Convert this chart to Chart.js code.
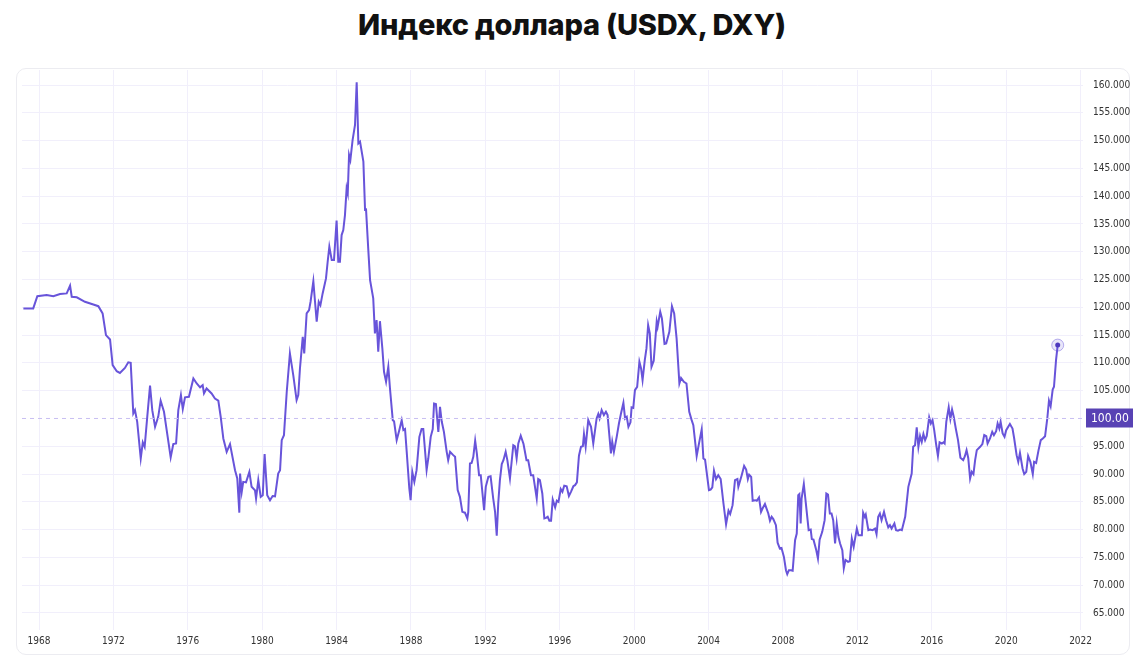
<!DOCTYPE html>
<html lang="ru">
<head>
<meta charset="utf-8">
<title>Индекс доллара (USDX, DXY)</title>
<script src="https://cdn.jsdelivr.net/npm/chart.js@4.4.0/dist/chart.umd.min.js"></script>
<style>
  html, body { margin: 0; padding: 0; background: #fff; }
  body { width: 1144px; height: 669px; position: relative; overflow: hidden; }
  .title {
    position: absolute; left: 0; top: 7px; width: 1144px; text-align: center;
    font-family: Inter, "Noto Sans", sans-serif; font-weight: 800; font-size: 29px;
    color: #111; letter-spacing: -0.2px;
  }
  .card {
    position: absolute; left: 16px; top: 68px; width: 1114px; height: 587px;
    border: 1px solid #ececf1; border-radius: 10px; box-sizing: border-box;
  }
  #dxy { position: absolute; left: 0; top: 0; }
</style>
</head>
<body>
<div class="title">Индекс доллара (USDX, DXY)</div>
<div class="card"></div>
<canvas id="dxy" width="1144" height="669"></canvas>
<script>
// dates as decimal years
const dates = [
  1967.16, 1967.69, 1967.91, 1968.41, 1968.77, 1969.13, 1969.49, 1969.67, 1969.76, 1970.03,
  1970.47, 1970.92, 1971.19, 1971.42, 1971.60, 1971.82, 1971.96, 1972.18, 1972.35, 1972.62,
  1972.80, 1972.93, 1973.07, 1973.16, 1973.28, 1973.47, 1973.58, 1973.68, 1973.82, 1973.97,
  1974.09, 1974.24, 1974.41, 1974.54, 1974.72, 1975.08, 1975.22, 1975.37, 1975.49, 1975.63,
  1975.73, 1975.85, 1976.06, 1976.30, 1976.48, 1976.66, 1976.80, 1976.87, 1977.01, 1977.28,
  1977.46, 1977.64, 1977.77, 1977.91, 1978.09, 1978.27, 1978.54, 1978.66, 1978.77,
  1978.81, 1978.90, 1978.98, 1979.13, 1979.31, 1979.43, 1979.61, 1979.67, 1979.79, 1979.92,
  1980.03, 1980.13, 1980.27, 1980.42, 1980.56, 1980.69, 1980.86, 1980.96, 1981.05, 1981.17,
  1981.32, 1981.49, 1981.67, 1981.85, 1981.94, 1982.03, 1982.18, 1982.26, 1982.39, 1982.52,
  1982.60, 1982.75, 1982.84, 1982.93, 1983.04, 1983.13, 1983.25, 1983.43, 1983.52, 1983.61,
  1983.74, 1983.86, 1984.00, 1984.09, 1984.18, 1984.27, 1984.36, 1984.45, 1984.54, 1984.60,
  1984.67, 1984.74, 1984.86, 1984.99, 1985.08, 1985.17, 1985.26, 1985.44, 1985.53, 1985.58,
  1985.70, 1985.80, 1985.97, 1986.06, 1986.15, 1986.24, 1986.33, 1986.46, 1986.55, 1986.66,
  1986.78, 1986.87, 1987.02, 1987.09, 1987.23, 1987.37, 1987.50, 1987.59, 1987.68, 1987.77,
  1987.91, 1987.98, 1988.07, 1988.18, 1988.30, 1988.45, 1988.57, 1988.66, 1988.84, 1988.93,
  1989.06, 1989.17, 1989.24, 1989.34, 1989.47, 1989.56, 1989.65, 1989.77, 1989.92, 1990.00,
  1990.10, 1990.27,
  1990.37, 1990.51, 1990.63, 1990.76, 1990.90, 1991.03, 1991.08, 1991.17, 1991.26, 1991.35,
  1991.45, 1991.54, 1991.66, 1991.75, 1991.93, 1992.02, 1992.16, 1992.28, 1992.42, 1992.52,
  1992.61, 1992.69, 1992.78, 1992.88, 1992.97, 1993.09, 1993.18, 1993.32, 1993.50, 1993.59,
  1993.68, 1993.77, 1993.90, 1994.05, 1994.21, 1994.30, 1994.45, 1994.57, 1994.76, 1994.84,
  1994.93, 1995.06, 1995.17, 1995.26, 1995.35, 1995.44, 1995.53, 1995.62, 1995.75, 1995.84,
  1995.93, 1996.05, 1996.14, 1996.24, 1996.37, 1996.49, 1996.60, 1996.73, 1996.82, 1996.92,
  1997.03, 1997.14, 1997.24, 1997.30, 1997.39, 1997.53, 1997.68, 1997.80, 1997.98, 1998.07,
  1998.14, 1998.25, 1998.37, 1998.48, 1998.57, 1998.64, 1998.75, 1998.82, 1998.91, 1999.06,
  1999.18, 1999.29, 1999.42, 1999.51, 1999.60, 1999.69, 1999.80, 1999.86, 1999.95, 2000.04,
  2000.16, 2000.28, 2000.37, 2000.45, 2000.57, 2000.66, 2000.75, 2000.84, 2000.93, 2001.05,
  2001.21, 2001.26, 2001.40, 2001.49, 2001.63, 2001.72, 2001.89, 2002.03, 2002.15, 2002.28,
  2002.43, 2002.52,
  2002.67, 2002.81, 2002.96, 2003.09, 2003.18, 2003.36, 2003.45, 2003.63, 2003.72, 2003.81,
  2004.02, 2004.11, 2004.20, 2004.29, 2004.40, 2004.52, 2004.65, 2004.80, 2004.94, 2005.07,
  2005.16, 2005.29, 2005.42, 2005.55, 2005.60, 2005.78, 2005.91, 2006.02, 2006.11, 2006.18,
  2006.29, 2006.37, 2006.50, 2006.59, 2006.71, 2006.82, 2006.90, 2007.03, 2007.21, 2007.30,
  2007.39, 2007.48, 2007.62, 2007.71, 2007.83, 2007.92, 2008.05, 2008.16, 2008.23, 2008.32,
  2008.43, 2008.52, 2008.65, 2008.74, 2008.82, 2008.88, 2008.95, 2009.00, 2009.12, 2009.22,
  2009.38, 2009.49, 2009.55, 2009.64, 2009.79, 2009.88, 2009.97, 2010.11, 2010.24, 2010.33,
  2010.42, 2010.52, 2010.61, 2010.70, 2010.80, 2010.89, 2010.98, 2011.07, 2011.19, 2011.27,
  2011.36, 2011.50, 2011.59, 2011.70, 2011.80, 2011.97, 2012.06, 2012.15, 2012.24, 2012.31,
  2012.40, 2012.45, 2012.59, 2012.68, 2012.82, 2012.95, 2013.03, 2013.12, 2013.21, 2013.30,
  2013.43, 2013.54, 2013.66, 2013.75, 2013.84, 2013.99, 2014.08, 2014.18, 2014.30, 2014.39,
  2014.57,
  2014.74, 2014.92, 2015.00, 2015.10, 2015.19, 2015.28, 2015.37, 2015.46, 2015.55, 2015.64,
  2015.73, 2015.86, 2015.95, 2016.04, 2016.13, 2016.24, 2016.33, 2016.42, 2016.54, 2016.63,
  2016.69, 2016.78, 2016.91, 2017.00, 2017.09, 2017.18, 2017.29, 2017.41, 2017.54, 2017.69,
  2017.78, 2017.87, 2017.96, 2018.06, 2018.15, 2018.24, 2018.33, 2018.42, 2018.60, 2018.72,
  2018.82, 2018.93, 2019.00, 2019.13, 2019.25, 2019.34, 2019.46, 2019.54, 2019.63, 2019.70,
  2019.81, 2019.91, 2020.00, 2020.20, 2020.34, 2020.43, 2020.56, 2020.65, 2020.74, 2020.88,
  2020.97, 2021.08, 2021.18, 2021.30, 2021.43, 2021.50, 2021.61, 2021.74, 2021.86, 2021.97,
  2022.09, 2022.21, 2022.30, 2022.39, 2022.50, 2022.57, 2022.68, 2022.77
];

const values = [
  119.8, 119.8, 122.0, 122.2, 122.0, 122.4, 122.5, 123.9, 121.9, 121.8,
  121.0, 120.5, 120.2, 118.9, 115.0, 114.2, 109.6, 108.5, 108.2, 109.1,
  110.1, 110.0, 100.9, 101.5, 99.4, 92.8, 95.7, 94.9, 100.3, 105.9,
  101.5, 98.5, 100.3, 103.2, 101.2, 93.0, 95.4, 95.5, 101.5, 104.2,
  101.7, 103.8, 103.9, 107.2, 106.3, 105.6, 106.0, 104.5, 105.4, 104.5,
  103.6, 103.2, 100.3, 96.4, 94.0, 95.4, 90.7, 89.2, 83.05,
  90.1, 86.8, 88.6, 88.5, 90.4, 87.7, 87.1, 85.6, 88.9, 85.9,
  86.2, 93.6, 86.2, 85.3, 86.05, 86.0, 90.1, 90.7, 96.1, 97.0,
  104.8, 111.7, 107.8, 103.3, 104.2, 109.0, 114.7, 111.7, 118.9, 119.5,
  121.0, 124.7, 121.0, 117.4, 121.0, 120.4, 122.5, 125.2, 128.2, 130.9,
  128.5, 128.5, 135.6, 128.2, 128.2, 133.0, 133.9, 136.6, 141.4, 140.5,
  147.4, 146.5, 150.1, 152.8, 160.5, 149.5, 149.8, 146.2, 137.5, 137.8,
  130.6, 124.9, 121.6, 115.3, 117.7, 112.0, 117.5, 112.6, 108.4, 106.6,
  109.3, 105.4, 99.7, 99.5, 96.1, 97.9, 99.7, 97.9, 98.1, 94.0,
  87.4, 85.3, 90.4, 88.6, 90.7, 96.7, 98.1, 98.1, 90.7, 92.8,
  96.7, 98.1, 102.7, 102.6, 97.6, 102.1, 99.5, 97.6, 94.0, 92.5,
  94.0, 93.4,
  93.1, 87.1, 85.9, 83.2, 83.05, 82.0, 83.2, 91.9, 92.0, 93.1,
  96.0, 93.7, 89.8, 89.8, 83.5, 87.7, 89.5, 89.6, 85.6, 83.2,
  78.9, 84.7, 88.9, 91.8, 92.5, 94.0, 92.5, 89.2, 95.2, 95.0,
  92.8, 95.5, 96.9, 95.4, 92.5, 92.5, 89.8, 89.8, 85.6, 89.1,
  88.9, 86.5, 82.0, 82.1, 82.3, 81.6, 81.6, 85.4, 84.0, 85.2,
  85.0, 87.3, 86.8, 87.9, 87.8, 86.05, 86.8, 87.8, 88.0, 88.5,
  93.3, 94.9, 95.0, 97.2, 94.9, 99.7, 98.5, 95.5, 100.0, 100.8,
  100.0, 101.5, 100.6, 101.2, 100.6, 97.9, 93.7, 95.8, 94.0, 96.7,
  99.1, 100.9, 102.8, 100.0, 100.3, 98.5, 99.3, 102.0, 101.9, 105.1,
  105.7, 110.2, 109.0, 106.9, 110.5, 112.6, 116.8, 115.3, 109.3, 110.4,
  117.4, 116.5, 119.2, 118.0, 113.4, 113.5, 115.6, 120.2, 118.9, 114.4,
  106.3, 107.3,
  106.6, 106.3, 101.2, 99.7, 98.8, 93.25, 94.9, 98.05, 92.8, 92.6,
  87.1, 87.2, 87.6, 90.6, 89.1, 89.8, 89.1, 84.7, 80.95, 83.4,
  82.8, 84.4, 88.9, 89.1, 87.7, 89.8, 91.45, 90.8, 89.1, 89.9,
  89.5, 85.2, 85.3, 85.2, 85.8, 83.2, 83.8, 84.6, 82.9, 81.6,
  82.3, 81.9, 80.8, 77.65, 76.6, 76.7, 75.1, 72.7, 72.0, 72.7,
  72.7, 72.6, 78.1, 79.3, 86.2, 86.4, 81.1, 85.6, 88.2, 85.0,
  79.9, 80.0, 78.3, 78.2, 76.3, 74.8, 78.2, 79.6, 81.7, 86.5,
  86.3, 82.9, 82.9, 81.7, 77.5, 81.1, 78.7, 77.5, 76.3, 73.05,
  74.55, 74.2, 74.3, 78.4, 76.9, 80.2, 79.0, 79.0, 79.0, 83.05,
  82.3, 82.7, 79.9, 80.0, 79.9, 80.2, 79.2, 82.3, 82.9, 81.7,
  83.2, 81.7, 80.4, 80.8, 80.2, 81.1, 79.9, 79.8, 80.0, 79.9,
  82.3,
  87.7, 90.1, 94.9, 95.2, 98.4, 94.9, 96.85, 95.8, 97.2, 96.1,
  96.85, 100.2, 99.1, 99.7, 97.9, 95.2, 93.25, 95.7, 95.5, 95.7,
  95.5, 99.4, 102.0, 99.9, 101.6, 100.3, 98.2, 96.1, 92.95, 92.5,
  93.2, 94.3, 92.9, 89.2, 90.4, 90.0, 92.5, 94.3, 94.9, 95.4,
  97.0, 96.8, 95.5, 96.4, 97.6, 97.0, 97.7, 99.1, 98.2, 99.4,
  97.3, 96.7, 97.9, 99.0, 98.2, 96.4, 93.4, 92.2, 93.8, 91.0,
  90.0, 90.4, 93.25, 92.2, 90.0, 92.2, 92.0, 94.3, 96.1, 96.4,
  96.8, 100.0, 103.2, 102.2, 105.2, 105.7, 110.5, 113.2
];

const xTickYears = [1968, 1972, 1976, 1980, 1984, 1988, 1992, 1996, 2000, 2004, 2008, 2012, 2016, 2020, 2024];
const xTickLabels = ['1968', '1972', '1976', '1980', '1984', '1988', '1992', '1996', '2000', '2004', '2008', '2012', '2016', '2020', '2022'];
const yTicks = [65, 70, 75, 80, 85, 90, 95, 100, 105, 110, 115, 120, 125, 130, 135, 140, 145, 150, 155, 160];
const refValue = 100;
const refLabel = '100.00';

const lineColor = 'rgb(104, 84, 218)';
const gridColor = '#f1effb';
const tickFont = { family: "'DejaVu Sans Condensed', 'DejaVu Sans', sans-serif", size: 10 };

// dashed 100 line, price box on the right axis, halo on the last point
const refLinePlugin = {
  id: 'refLine',
  afterDatasetsDraw(chart) {
    const { ctx, chartArea, scales } = chart;
    const y = scales.y.getPixelForValue(refValue);
    ctx.save();
    ctx.strokeStyle = '#c8bff2';
    ctx.lineWidth = 1;
    ctx.setLineDash([4, 4]);
    ctx.beginPath();
    ctx.moveTo(chartArea.left, y);
    ctx.lineTo(chartArea.right, y);
    ctx.stroke();
    ctx.setLineDash([]);

    const meta = chart.getDatasetMeta(0);
    const last = meta.data[meta.data.length - 1];
    ctx.beginPath();
    ctx.arc(last.x, last.y, 6, 0, Math.PI * 2);
    ctx.fillStyle = 'rgba(104, 84, 218, 0.15)';
    ctx.fill();
    ctx.strokeStyle = 'rgba(104, 84, 218, 0.45)';
    ctx.stroke();
    ctx.beginPath();
    ctx.arc(last.x, last.y, 2.5, 0, Math.PI * 2);
    ctx.fillStyle = '#4e39bd';
    ctx.fill();
    ctx.restore();
  },
  afterDraw(chart) {
    const { ctx, chartArea, scales } = chart;
    const y = scales.y.getPixelForValue(refValue);
    ctx.save();
    ctx.fillStyle = '#5842b4';
    ctx.fillRect(chartArea.right + 3, Math.round(y) - 9.5, 47, 19);
    ctx.fillStyle = '#ffffff';
    ctx.font = "12px 'DejaVu Sans Condensed', 'DejaVu Sans', sans-serif";
    ctx.textBaseline = 'middle';
    ctx.textAlign = 'left';
    ctx.fillText(refLabel, chartArea.right + 8, y + 0.5);
    ctx.restore();
  }
};

new Chart(document.getElementById('dxy').getContext('2d'), {
  type: 'line',
  data: {
    datasets: [{
      data: dates.map((d, i) => ({ x: d, y: values[i] })),
      borderColor: lineColor,
      borderWidth: 2,
      pointRadius: 0,
      tension: 0,
      fill: false
    }]
  },
  options: {
    responsive: false,
    animation: false,
    devicePixelRatio: 1,
    layout: { padding: { left: 22, top: 70, right: 0, bottom: 0 } },
    plugins: {
      legend: { display: false },
      tooltip: { enabled: false }
    },
    scales: {
      x: {
        type: 'linear',
        min: 1967.086,
        max: 2024.13,
        border: { display: false },
        grid: { color: gridColor, drawTicks: false },
        afterBuildTicks: (scale) => { scale.ticks = xTickYears.map(v => ({ value: v })); },
        afterFit: (scale) => { scale.height = 39; },
        ticks: {
          autoSkip: false,
          maxRotation: 0,
          padding: 5,
          color: '#333',
          font: tickFont,
          callback: (value) => xTickLabels[xTickYears.indexOf(value)]
        }
      },
      y: {
        position: 'right',
        min: 61.94,
        max: 162.7,
        border: { display: false },
        grid: {
          drawTicks: false,
          color: (c) => (c.tick && c.tick.value === refValue ? 'rgba(0,0,0,0)' : gridColor)
        },
        afterBuildTicks: (scale) => { scale.ticks = yTicks.map(v => ({ value: v })); },
        afterFit: (scale) => { scale.width = 61; },
        ticks: {
          padding: 10,
          color: '#333',
          font: tickFont,
          callback: (value) => (value === refValue ? '' : value.toFixed(3))
        }
      }
    }
  },
  plugins: [refLinePlugin]
});
</script>
</body>
</html>
